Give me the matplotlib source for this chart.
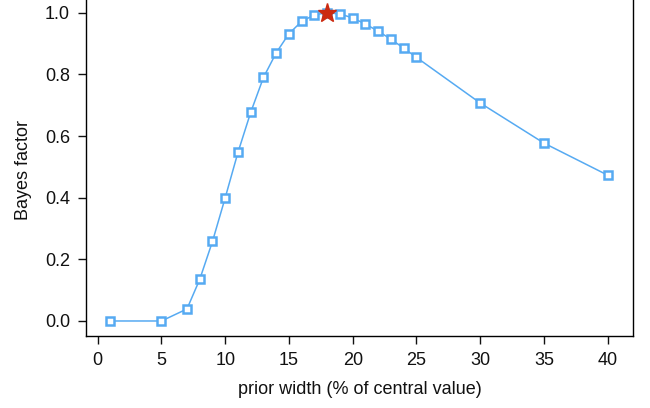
import matplotlib
matplotlib.use("Agg")
import matplotlib.pyplot as plt

plt.rcParams['font.family'] = ['Liberation Sans', 'DejaVu Sans']

widths = [1, 5, 7, 8, 9, 10, 11, 12, 13, 14, 15, 16, 17, 18, 19, 20, 21, 22, 23, 24, 25, 30, 35, 40]
bayes = [0.0, 0.0, 0.039, 0.135, 0.258, 0.40, 0.547, 0.677, 0.79, 0.87, 0.932, 0.972, 0.993, 1.0,
         0.996, 0.983, 0.963, 0.94, 0.914, 0.885, 0.855, 0.707, 0.577, 0.473]
best_x = [18]
best_y = [1.0]
xticks = [0, 5, 10, 15, 20, 25, 30, 35, 40]
yticks = [0.0, 0.2, 0.4, 0.6, 0.8, 1.0]

W, H = 650, 408
L, R, B, T = 86, 632.7, 336, -2.3
fig = plt.figure(figsize=(6.5, 4.08), dpi=100)
ax = fig.add_axes([L/W, 1-B/H, (R-L)/W, (B-T)/H])

blue = '#56AAF2'
ax.plot(widths, bayes, color=blue, lw=1.1, marker='s', ms=5.6, mew=1.8,
        mfc='white', mec=blue, zorder=3)
ax.plot(best_x, best_y, marker='*', color='#CC2A10', ms=14, ls='none', zorder=4)

ax.set_xlim(-0.92, 41.96)
ax.set_ylim(-0.0487, 1.0487)
ax.set_xticks(xticks)
ax.set_xticklabels([str(v) for v in xticks])
ax.set_yticks(yticks)
ax.set_yticklabels([f"{v:.1f}" for v in yticks])
ax.spines['top'].set_visible(False)
for s in ['left', 'bottom', 'right']:
    ax.spines[s].set_linewidth(1.0)
ax.tick_params(axis='both', length=5.5, width=1.0, labelsize=13, colors='#111111')
ax.tick_params(axis='y', pad=6)
ax.tick_params(axis='x', pad=6)

ax.set_xlabel('prior width (% of central value)', fontsize=13, color='#111111')
ax.set_ylabel('Bayes factor', fontsize=13, color='#111111')
ax.xaxis.set_label_coords((360-L)/(R-L), -(381-B)/(B-T))
ax.yaxis.set_label_coords(-(L-32)/(R-L), (B-170)/(B-T))

fig.savefig('out.png', dpi=100)
